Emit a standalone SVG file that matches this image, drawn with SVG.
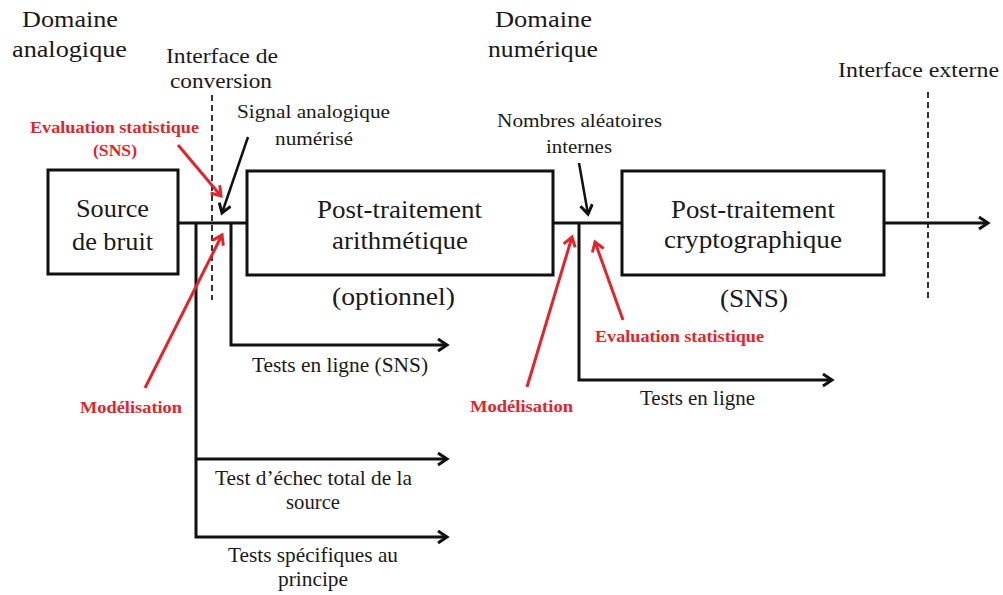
<svg xmlns="http://www.w3.org/2000/svg" width="1003" height="595" viewBox="0 0 1003 595">
<style>
text{font-family:'Liberation Serif','DejaVu Serif',serif}
.t{fill:#1a1a1a}
.r{font-weight:bold;fill:#e3242b;font-size:17px}
.box{fill:#fff;stroke:#111;stroke-width:3}
.ln{fill:none;stroke:#111;stroke-width:3}
.ar{fill:none;stroke:#111;stroke-width:3;marker-end:url(#ah)}
.ra{fill:none;stroke:#e3242b;stroke-width:3;marker-end:url(#rh)}
.ba{fill:none;stroke:#111;stroke-width:2.5;marker-end:url(#ah)}
.da{fill:none;stroke:#333;stroke-width:2;stroke-dasharray:6 4}
</style>
<defs>
<marker id="ah" markerUnits="userSpaceOnUse" markerWidth="16" markerHeight="16" refX="11" refY="7" orient="auto">
<path d="M2,1 L11,7 L2,13" fill="none" stroke="#111" stroke-width="3"/>
</marker>
<marker id="rh" markerUnits="userSpaceOnUse" markerWidth="16" markerHeight="16" refX="11" refY="7" orient="auto">
<path d="M2,1 L11,7 L2,13" fill="none" stroke="#e3242b" stroke-width="3"/>
</marker>
</defs>
<rect width="1003" height="595" fill="#fff"/>

<g id="labels-domains">
<text class="t" font-size="23" x="22" y="27" textLength="96" lengthAdjust="spacingAndGlyphs">Domaine</text>
<text class="t" font-size="23" x="12" y="57" textLength="115" lengthAdjust="spacingAndGlyphs">analogique</text>
<text class="t" font-size="21" x="166" y="63" textLength="112" lengthAdjust="spacingAndGlyphs">Interface de</text>
<text class="t" font-size="21" x="170" y="88" textLength="102" lengthAdjust="spacingAndGlyphs">conversion</text>
<text class="t" font-size="23" x="495" y="27" textLength="97" lengthAdjust="spacingAndGlyphs">Domaine</text>
<text class="t" font-size="23" x="488" y="57" textLength="110" lengthAdjust="spacingAndGlyphs">numérique</text>
<text class="t" font-size="21" x="838" y="77" textLength="161" lengthAdjust="spacingAndGlyphs">Interface externe</text>
</g>

<g id="interfaces">
<line class="da" x1="212" y1="95" x2="212" y2="300"/>
<line class="da" x1="928" y1="92" x2="928" y2="298"/>
</g>

<g id="connectors">
<line class="ln" x1="178" y1="223" x2="247" y2="223"/>
<polyline class="ar" points="196,223 196,537 447,537"/>
<line class="ar" x1="196" y1="459" x2="447" y2="459"/>
<polyline class="ar" points="231,223 231,345 447,345"/>
<line class="ln" x1="553" y1="223" x2="622" y2="223"/>
<polyline class="ar" points="579,223 579,380 832,380"/>
<line class="ar" x1="884" y1="223" x2="988" y2="223"/>
<line class="ba" x1="248" y1="137" x2="222" y2="213"/>
<line class="ba" x1="579" y1="163" x2="588" y2="214"/>
<line class="ra" x1="178" y1="145" x2="221" y2="196"/>
<line class="ra" x1="145" y1="388" x2="222" y2="235"/>
<line class="ra" x1="527" y1="387" x2="572" y2="237"/>
<line class="ra" x1="623" y1="320" x2="595" y2="242"/>
</g>

<g id="source">
<rect class="box" x="48" y="170" width="130" height="104"/>
<text class="t" font-size="25" x="76" y="217" textLength="73" lengthAdjust="spacingAndGlyphs">Source</text>
<text class="t" font-size="25" x="72" y="250" textLength="81" lengthAdjust="spacingAndGlyphs">de bruit</text>
</g>

<g id="post-arith">
<rect class="box" x="247" y="171" width="306" height="104"/>
<text class="t" font-size="25" x="317" y="218" textLength="165" lengthAdjust="spacingAndGlyphs">Post-traitement</text>
<text class="t" font-size="25" x="332" y="249" textLength="136" lengthAdjust="spacingAndGlyphs">arithmétique</text>
<text class="t" font-size="25" x="332" y="305" textLength="123" lengthAdjust="spacingAndGlyphs">(optionnel)</text>
</g>

<g id="post-crypto">
<rect class="box" x="622" y="171" width="262" height="104"/>
<text class="t" font-size="25" x="671" y="218" textLength="164" lengthAdjust="spacingAndGlyphs">Post-traitement</text>
<text class="t" font-size="25" x="664" y="248" textLength="178" lengthAdjust="spacingAndGlyphs">cryptographique</text>
<text class="t" font-size="25" x="720" y="307" textLength="68" lengthAdjust="spacingAndGlyphs">(SNS)</text>
</g>

<g id="annotations">
<text class="t" font-size="19" x="237" y="118" textLength="153" lengthAdjust="spacingAndGlyphs">Signal analogique</text>
<text class="t" font-size="19" x="275" y="145" textLength="78" lengthAdjust="spacingAndGlyphs">numérisé</text>
<text class="t" font-size="19" x="497" y="127" textLength="165" lengthAdjust="spacingAndGlyphs">Nombres aléatoires</text>
<text class="t" font-size="19" x="546" y="153" textLength="66" lengthAdjust="spacingAndGlyphs">internes</text>
<text class="r" x="30" y="133" textLength="169" lengthAdjust="spacingAndGlyphs">Evaluation statistique</text>
<text class="r" x="93" y="156" textLength="44" lengthAdjust="spacingAndGlyphs">(SNS)</text>
<text class="r" x="80" y="413" textLength="102" lengthAdjust="spacingAndGlyphs">Modélisation</text>
<text class="r" x="470" y="412" textLength="103" lengthAdjust="spacingAndGlyphs">Modélisation</text>
<text class="r" x="595" y="342" textLength="169" lengthAdjust="spacingAndGlyphs">Evaluation statistique</text>
</g>

<g id="tests">
<text class="t" font-size="21" x="252" y="372" textLength="176" lengthAdjust="spacingAndGlyphs">Tests en ligne (SNS)</text>
<text class="t" font-size="21" x="215" y="485" textLength="197" lengthAdjust="spacingAndGlyphs">Test d’échec total de la</text>
<text class="t" font-size="21" x="286" y="509" textLength="54" lengthAdjust="spacingAndGlyphs">source</text>
<text class="t" font-size="21" x="228" y="562" textLength="170" lengthAdjust="spacingAndGlyphs">Tests spécifiques au</text>
<text class="t" font-size="21" x="278" y="586" textLength="70" lengthAdjust="spacingAndGlyphs">principe</text>
<text class="t" font-size="21" x="640" y="405" textLength="115" lengthAdjust="spacingAndGlyphs">Tests en ligne</text>
</g>
</svg>
